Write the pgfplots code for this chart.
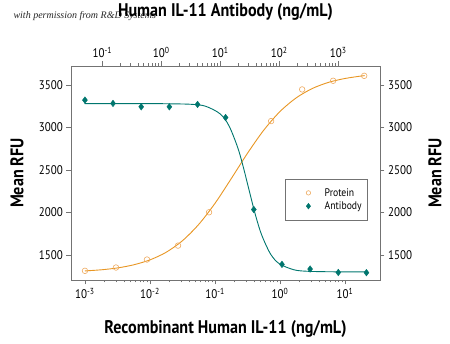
\documentclass[border=0pt]{standalone}
\usepackage{fontspec}
\setmainfont{PT Sans}[FakeStretch=0.88]
\newfontfamily\wmfont{Liberation Serif}
\usepackage{pgfplots}
\pgfplotsset{compat=1.18}
\definecolor{prot}{RGB}{232,150,35}
\definecolor{protm}{RGB}{238,170,95}
\definecolor{anti}{RGB}{0,118,110}
\definecolor{frame}{RGB}{115,115,115}
\pgfplotsset{common/.style={scale only axis, width=309pt, height=214pt, at={(71pt,64pt)}, anchor=south west,
  ymin=1204, ymax=3725,
  axis line style={frame, line width=0.6pt}, tick style={frame, line width=0.5pt},
  tick align=outside, major tick length=4.5pt, minor tick length=2.5pt,
  ytick={1500,2000,2500,3000,3500},
  tick label style={font=\fontsize{12.5}{14}\selectfont},
  /pgf/number format/assume math mode=true, /pgf/number format/1000 sep={},
  label style={font=\bfseries\fontsize{18.3}{21}\selectfont}},
  legmark/.style={legend image code/.code={\path (0pt,0pt) (25pt,0pt); \draw[##1] plot coordinates {(19pt,0pt)};}}}
\begin{document}
\begin{tikzpicture}
\path[use as bounding box] (0,0) rectangle (450pt,344pt);
\node[anchor=west, font=\wmfont\itshape\fontsize{10}{12}\selectfont, text=black!85] at (10pt,328pt) {with permission from R\&D Systems};
\begin{axis}[xmode=log, common, xmin=6.1e-4, xmax=34.5,
  xtick={1e-3,1e-2,1e-1,1,10},
  xticklabels={10\textsuperscript{-3},10\textsuperscript{-2},10\textsuperscript{-1},10\textsuperscript{0},10\textsuperscript{1}},
  xtick pos=left, ytick pos=left,
  xlabel={Recombinant Human IL-11 (ng/mL)}, ylabel={Mean RFU},
  xlabel style={at={(axis description cs:0.5,-0.228)}, anchor=center},
  ylabel style={at={(axis description cs:-0.175,0.5)}, anchor=center}]
\addplot[prot, line width=0.9pt, smooth, forget plot] coordinates {
(0.001,1311)(0.001778,1324)(0.003162,1346)(0.005623,1383)(0.01,1441)(0.01778,1531)(0.03162,1667)(0.05623,1859)(0.1,2107)(0.1778,2398)(0.3162,2697)(0.5623,2969)(1,3189)(1.778,3350)(3.162,3461)(5.623,3533)(10,3578)(17.78,3607)(19.95,3611)};
\addplot[only marks, mark=o, mark size=2.8pt, draw=protm, line width=0.6pt, forget plot] coordinates {
(0.001,1312)(0.003,1351)(0.009,1445)(0.027,1609)(0.081,2002)(0.73,3076)(2.19,3449)(6.56,3551)(19.7,3609)};
\end{axis}
\begin{axis}[xmode=log, common, xmin=0.0295, xmax=5093,
  xtick={0.1,1,10,100,1000},
  xticklabels={10\textsuperscript{-1},10\textsuperscript{0},10\textsuperscript{1},10\textsuperscript{2},10\textsuperscript{3}},
  xtick pos=right, xticklabel pos=right, ytick pos=right, yticklabel pos=right,
  ylabel={Mean RFU},
  ylabel style={at={(axis description cs:1.178,0.5)}, anchor=center},
  title={Human IL-11 Antibody (ng/mL)},
  title style={at={(axis description cs:0.5,1.222)}, anchor=center, font=\bfseries\fontsize{18.3}{21}\selectfont},
  legend style={at={(0.961,0.472)}, anchor=north east, draw=frame, line width=0.5pt, font=\fontsize{11}{13}\selectfont, inner xsep=4pt, inner ysep=7pt, row sep=0pt},
  legend cell align=left]
\addlegendimage{legmark, only marks, mark=o, mark size=2.2pt, draw=protm, line width=0.6pt}
\addlegendentry{\hspace{8pt}Protein}
\addlegendimage{legmark, only marks, mark=diamond*, mark size=2.8pt, color=anti}
\addlegendentry{\hspace{8pt}Antibody}
\addplot[anti, line width=0.9pt, smooth, forget plot] coordinates {
(0.0501,3282)(0.3162,3282)(1,3281)(3.162,3274)(5.623,3251)(10,3160)(14.13,3017)(19.95,2755)(25.12,2508)(31.62,2229)(39.81,1960)(50.12,1737)(70.79,1512)(100,1396)(177.8,1324)(316.2,1306)(1000,1300)(2951,1300)};
\addplot[only marks, mark=diamond*, mark size=3.3pt, color=anti, forget plot] coordinates {
(0.0508,3323)(0.152,3284)(0.457,3244)(1.37,3244)(4.12,3272)(12.3,3118)(37,2034)(111,1388)(333,1333)(1000,1293)(3000,1290)};
\end{axis}
\end{tikzpicture}
\end{document}
